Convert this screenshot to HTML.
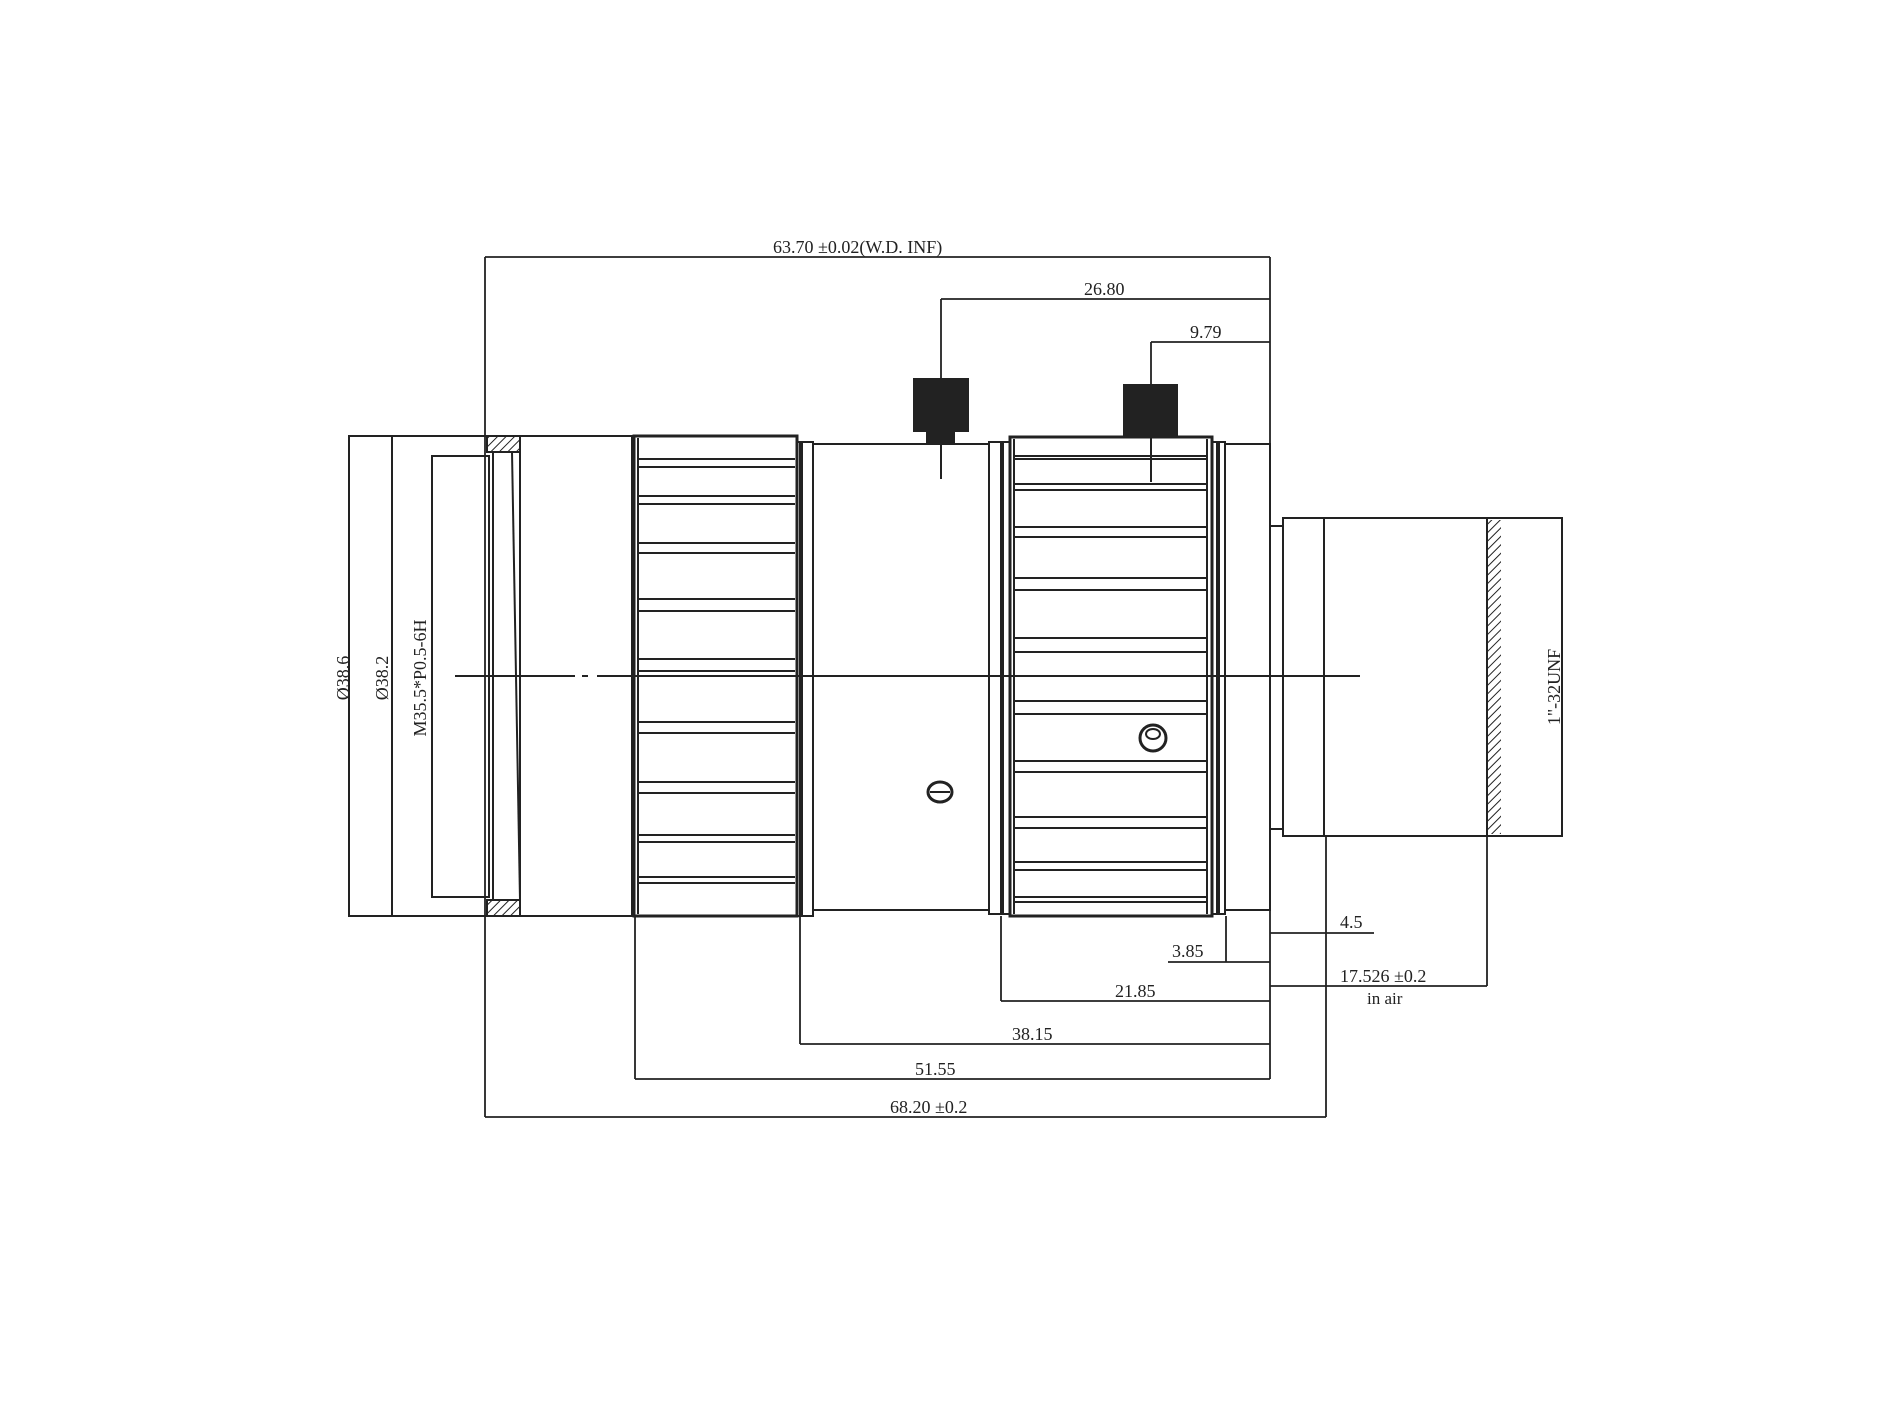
<!DOCTYPE html>
<html><head><meta charset="utf-8"><style>html,body{margin:0;padding:0;background:#fff}svg{display:block}text{font-family:"Liberation Serif",serif;fill:#222}</style></head>
<body>
<svg width="1890" height="1417" viewBox="0 0 1890 1417" xmlns="http://www.w3.org/2000/svg">
<defs><pattern id="h" width="6" height="6" patternUnits="userSpaceOnUse" patternTransform="rotate(45)"><line x1="0" y1="0" x2="0" y2="6" stroke="#222" stroke-width="2"/></pattern></defs>
<g stroke="#222" fill="none" stroke-width="2">
<rect x="349" y="436" width="171" height="480"/>
<line x1="392" y1="436" x2="392" y2="916"/>
<rect x="432" y="456" width="57" height="441"/>
<rect x="487" y="436" width="33" height="16" fill="url(#h)"/>
<rect x="487" y="900" width="33" height="16" fill="url(#h)"/>
<line x1="493" y1="452" x2="493" y2="900"/><line x1="512" y1="452" x2="520" y2="900"/>
<rect x="520" y="436" width="112" height="480"/>
<rect x="634" y="436" width="163" height="480" stroke-width="3"/>
<line x1="638" y1="438" x2="638" y2="914"/>
<line x1="638" y1="459" x2="795" y2="459"/><line x1="638" y1="467" x2="795" y2="467"/>
<line x1="638" y1="496" x2="795" y2="496"/><line x1="638" y1="504" x2="795" y2="504"/>
<line x1="638" y1="543" x2="795" y2="543"/><line x1="638" y1="553" x2="795" y2="553"/>
<line x1="638" y1="599" x2="795" y2="599"/><line x1="638" y1="611" x2="795" y2="611"/>
<line x1="638" y1="659" x2="795" y2="659"/><line x1="638" y1="671" x2="795" y2="671"/>
<line x1="638" y1="722" x2="795" y2="722"/><line x1="638" y1="733" x2="795" y2="733"/>
<line x1="638" y1="782" x2="795" y2="782"/><line x1="638" y1="793" x2="795" y2="793"/>
<line x1="638" y1="835" x2="795" y2="835"/><line x1="638" y1="842" x2="795" y2="842"/>
<line x1="638" y1="877" x2="795" y2="877"/><line x1="638" y1="883" x2="795" y2="883"/>
<rect x="797" y="442" width="16" height="474"/>
<line x1="801" y1="442" x2="801" y2="916" stroke-width="4"/>
<rect x="813" y="444" width="176" height="466"/>
<rect x="989" y="442" width="21" height="472"/>
<line x1="1002" y1="442" x2="1002" y2="914" stroke-width="4"/>
<rect x="1010" y="437" width="202" height="479" stroke-width="3"/>
<line x1="1014" y1="439" x2="1014" y2="914"/>
<line x1="1207" y1="439" x2="1207" y2="914"/>
<line x1="1014" y1="456" x2="1207" y2="456"/><line x1="1014" y1="459" x2="1207" y2="459"/>
<line x1="1014" y1="484" x2="1207" y2="484"/><line x1="1014" y1="490" x2="1207" y2="490"/>
<line x1="1014" y1="527" x2="1207" y2="527"/><line x1="1014" y1="537" x2="1207" y2="537"/>
<line x1="1014" y1="578" x2="1207" y2="578"/><line x1="1014" y1="590" x2="1207" y2="590"/>
<line x1="1014" y1="638" x2="1207" y2="638"/><line x1="1014" y1="652" x2="1207" y2="652"/>
<line x1="1014" y1="701" x2="1207" y2="701"/><line x1="1014" y1="714" x2="1207" y2="714"/>
<line x1="1014" y1="761" x2="1207" y2="761"/><line x1="1014" y1="772" x2="1207" y2="772"/>
<line x1="1014" y1="817" x2="1207" y2="817"/><line x1="1014" y1="828" x2="1207" y2="828"/>
<line x1="1014" y1="862" x2="1207" y2="862"/><line x1="1014" y1="870" x2="1207" y2="870"/>
<line x1="1014" y1="897" x2="1207" y2="897"/><line x1="1014" y1="902" x2="1207" y2="902"/>
<rect x="1212" y="442" width="13" height="472"/>
<line x1="1218" y1="442" x2="1218" y2="914" stroke-width="4"/>
<rect x="1225" y="444" width="45" height="466"/>
<rect x="1270" y="526" width="13" height="303"/>
<rect x="1283" y="518" width="279" height="318"/>
<line x1="1324" y1="518" x2="1324" y2="836"/>
<rect x="1487" y="520" width="14" height="314" fill="url(#h)" stroke="none"/>
<line x1="1487" y1="518" x2="1487" y2="836"/>
<rect x="914" y="379" width="54" height="52" fill="#222"/>
<rect x="927" y="431" width="27" height="13" fill="#222"/>
<line x1="941" y1="444" x2="941" y2="479"/>
<rect x="1124" y="385" width="53" height="51" fill="#222"/>
<line x1="1151" y1="436" x2="1151" y2="482"/>
<ellipse cx="940" cy="792" rx="12" ry="10" stroke-width="3"/><line x1="930" y1="792" x2="950" y2="792"/>
<ellipse cx="1153" cy="738" rx="13" ry="13" stroke-width="3"/><ellipse cx="1153" cy="734" rx="7" ry="5"/>
<line x1="455" y1="676" x2="575" y2="676"/><line x1="582" y1="676" x2="588" y2="676"/><line x1="597" y1="676" x2="1360" y2="676"/>
<g stroke-width="1.8">
<line x1="485" y1="257" x2="1270" y2="257"/><line x1="485" y1="257" x2="485" y2="1117"/><line x1="1270" y1="257" x2="1270" y2="444"/>
<line x1="941" y1="299" x2="1270" y2="299"/><line x1="941" y1="299" x2="941" y2="379"/>
<line x1="1151" y1="342" x2="1270" y2="342"/><line x1="1151" y1="342" x2="1151" y2="385"/>
<line x1="1270" y1="933" x2="1374" y2="933"/>
<line x1="1168" y1="962" x2="1270" y2="962"/><line x1="1226" y1="916" x2="1226" y2="962"/>
<line x1="1270" y1="986" x2="1487" y2="986"/><line x1="1487" y1="836" x2="1487" y2="986"/>
<line x1="1001" y1="1001" x2="1270" y2="1001"/><line x1="1001" y1="916" x2="1001" y2="1001"/>
<line x1="800" y1="1044" x2="1270" y2="1044"/><line x1="800" y1="916" x2="800" y2="1044"/>
<line x1="635" y1="1079" x2="1270" y2="1079"/><line x1="635" y1="916" x2="635" y2="1079"/>
<line x1="485" y1="1117" x2="1326" y2="1117"/><line x1="1326" y1="836" x2="1326" y2="1117"/>
<line x1="1270" y1="910" x2="1270" y2="1079"/>
</g>
</g>
<g font-size="18" stroke="none">
<text x="773" y="253">63.70 ±0.02(W.D. INF)</text>
<text x="1084" y="295">26.80</text>
<text x="1190" y="338">9.79</text>
<text x="1340" y="928">4.5</text>
<text x="1172" y="957">3.85</text>
<text x="1340" y="982">17.526 ±0.2</text>
<text x="1367" y="1004" font-size="17">in air</text>
<text x="1115" y="997">21.85</text>
<text x="1012" y="1040">38.15</text>
<text x="915" y="1075">51.55</text>
<text x="890" y="1113">68.20 ±0.2</text>
<text transform="translate(349,678) rotate(-90)" text-anchor="middle">Ø38.6</text>
<text transform="translate(388,678) rotate(-90)" text-anchor="middle">Ø38.2</text>
<text transform="translate(426,678) rotate(-90)" text-anchor="middle">M35.5*P0.5-6H</text>
<text transform="translate(1560,687) rotate(-90)" text-anchor="middle">1"-32UNF</text>
</g>
</svg>
</body></html>
